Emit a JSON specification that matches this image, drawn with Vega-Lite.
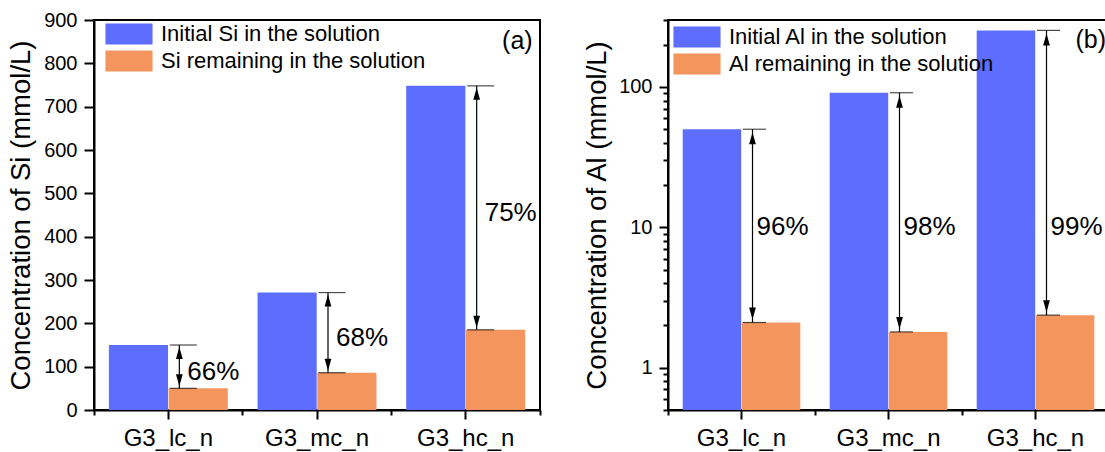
{
  "$schema": "https://vega.github.io/schema/vega-lite/v6.json",
  "padding": {"left": 6, "top": 9, "right": 0, "bottom": 0},
  "autosize": {"type": "pad"},
  "background": "white",
  "datasets": {
    "si": [
      {"sample": "G3_lc_n", "series": "Initial Si in the solution", "value": 150, "removal": "66%"},
      {"sample": "G3_lc_n", "series": "Si remaining in the solution", "value": 50, "removal": "66%"},
      {"sample": "G3_mc_n", "series": "Initial Si in the solution", "value": 271, "removal": "68%"},
      {"sample": "G3_mc_n", "series": "Si remaining in the solution", "value": 86, "removal": "68%"},
      {"sample": "G3_hc_n", "series": "Initial Si in the solution", "value": 748, "removal": "75%"},
      {"sample": "G3_hc_n", "series": "Si remaining in the solution", "value": 185, "removal": "75%"}
    ],
    "al": [
      {"sample": "G3_lc_n", "series": "Initial Al in the solution", "value": 50, "removal": "96%"},
      {"sample": "G3_lc_n", "series": "Al remaining in the solution", "value": 2.1, "removal": "96%"},
      {"sample": "G3_mc_n", "series": "Initial Al in the solution", "value": 91, "removal": "98%"},
      {"sample": "G3_mc_n", "series": "Al remaining in the solution", "value": 1.8, "removal": "98%"},
      {"sample": "G3_hc_n", "series": "Initial Al in the solution", "value": 253, "removal": "99%"},
      {"sample": "G3_hc_n", "series": "Al remaining in the solution", "value": 2.37, "removal": "99%"}
    ]
  },
  "hconcat": [
    {
      "width": 446,
      "height": 390,
      "data": {"name": "si"},
      "resolve": {"axis": {"x": "independent"}},
      "layer": [
        {
          "mark": {"type": "bar"},
          "encoding": {
            "x": {
              "field": "sample", "type": "nominal", "sort": ["G3_lc_n", "G3_mc_n", "G3_hc_n"],
              "scale": {"paddingInner": 0.2, "paddingOuter": 0.1},
              "axis": {"orient": "bottom", "title": null, "labelAngle": 0, "labelFontSize": 24, "tickSize": 9, "labelPadding": 7}
            },
            "xOffset": {"field": "series", "type": "nominal", "sort": ["Initial Si in the solution", "Si remaining in the solution"], "scale": {"paddingInner": 0.01}},
            "y": {
              "field": "value", "type": "quantitative", "stack": null,
              "scale": {"domain": [0, 900], "nice": false},
              "axis": {
                "values": [0, 50, 100, 150, 200, 250, 300, 350, 400, 450, 500, 550, 600, 650, 700, 750, 800, 850, 900],
                "labelExpr": "datum.value % 100 === 0 ? datum.label : ''",
                "tickSize": {"condition": {"test": "datum.value % 100 !== 0", "value": 6}, "value": 10},
                "labelFontSize": 20, "labelPadding": 7,
                "title": "Concentration of Si (mmol/L)", "titleFontSize": 27.5, "titlePadding": 8
              }
            },
            "color": {
              "field": "series", "type": "nominal",
              "sort": ["Initial Si in the solution", "Si remaining in the solution"],
              "scale": {"domain": ["Initial Si in the solution", "Si remaining in the solution"], "range": ["#5D6DFE", "#F4955E"]},
              "legend": {"title": null, "orient": "none", "legendX": 24, "legendY": 3}
            }
          }
        },
        {
          "mark": {"type": "tick", "orient": "horizontal", "size": 27, "thickness": 1.2, "xOffset": 15, "color": "black"},
          "encoding": {
            "x": {"field": "sample", "type": "nominal", "sort": ["G3_lc_n", "G3_mc_n", "G3_hc_n"],
              "axis": {"orient": "bottom", "labels": false, "title": null, "domain": false, "tickSize": 5, "bandPosition": -0.125}},
            "y": {"field": "value", "type": "quantitative"}
          }
        },
        {
          "mark": {"type": "rule", "xOffset": 11, "strokeWidth": 1.2, "color": "black"},
          "encoding": {
            "x": {"field": "sample", "type": "nominal", "sort": ["G3_lc_n", "G3_mc_n", "G3_hc_n"],
              "axis": {"orient": "bottom", "labels": false, "title": null, "domain": false, "tickSize": 5, "bandPosition": 1.125, "values": ["G3_hc_n"]}},
            "y": {"aggregate": "max", "field": "value", "type": "quantitative"},
            "y2": {"aggregate": "min", "field": "value"}
          }
        },
        {
          "mark": {"type": "point", "shape": "M0,0L-0.28,1L0.28,1Z", "size": 576, "filled": true, "opacity": 1, "color": "black", "xOffset": 11, "yOffset": 2},
          "encoding": {
            "x": {"field": "sample", "type": "nominal", "sort": ["G3_lc_n", "G3_mc_n", "G3_hc_n"], "axis": null},
            "y": {"aggregate": "max", "field": "value", "type": "quantitative"}
          }
        },
        {
          "mark": {"type": "point", "shape": "M0,0L-0.28,-1L0.28,-1Z", "size": 576, "filled": true, "opacity": 1, "color": "black", "xOffset": 11, "yOffset": -2},
          "encoding": {
            "x": {"field": "sample", "type": "nominal", "sort": ["G3_lc_n", "G3_mc_n", "G3_hc_n"], "axis": null},
            "y": {"aggregate": "min", "field": "value", "type": "quantitative"}
          }
        },
        {
          "mark": {"type": "text", "align": "left", "baseline": "middle", "xOffset": 19, "yOffset": 5, "fontSize": 26, "font": "Liberation Sans", "color": "black"},
          "encoding": {
            "x": {"field": "sample", "type": "nominal", "sort": ["G3_lc_n", "G3_mc_n", "G3_hc_n"], "axis": null},
            "y": {"aggregate": "mean", "field": "value", "type": "quantitative"},
            "text": {"field": "removal", "type": "nominal"}
          }
        },
        {
          "data": {"values": [{"panel": "(a)"}]},
          "mark": {"type": "text", "align": "right", "baseline": "alphabetic", "xOffset": 67, "fontSize": 25, "font": "Liberation Sans", "color": "black"},
          "encoding": {
            "x": {"datum": "G3_hc_n", "type": "nominal", "axis": null},
            "y": {"datum": 833, "type": "quantitative"},
            "text": {"field": "panel", "type": "nominal"}
          }
        }
      ]
    },
    {
      "width": 441,
      "height": 390,
      "data": {"name": "al"},
      "resolve": {"axis": {"x": "independent"}},
      "layer": [
        {
          "mark": {"type": "bar"},
          "encoding": {
            "x": {
              "field": "sample", "type": "nominal", "sort": ["G3_lc_n", "G3_mc_n", "G3_hc_n"],
              "scale": {"paddingInner": 0.2, "paddingOuter": 0.1},
              "axis": {"orient": "bottom", "title": null, "labelAngle": 0, "labelFontSize": 24, "tickSize": 9, "labelPadding": 7}
            },
            "xOffset": {"field": "series", "type": "nominal", "sort": ["Initial Al in the solution", "Al remaining in the solution"], "scale": {"paddingInner": 0.01}},
            "y": {
              "field": "value", "type": "quantitative", "stack": null,
              "scale": {"type": "log", "domain": [0.5, 300], "nice": false},
              "axis": {
                "values": [0.5, 0.6, 0.7, 0.8, 0.9, 1, 2, 3, 4, 5, 6, 7, 8, 9, 10, 20, 30, 40, 50, 60, 70, 80, 90, 100, 200, 300],
                "labelExpr": "datum.value === 1 ? '1' : datum.value === 10 ? '10' : datum.value === 100 ? '100' : ''",
                "tickSize": {"condition": {"test": "datum.value === 1 || datum.value === 10 || datum.value === 100", "value": 9}, "value": 5},
                "labelFontSize": 20, "labelPadding": 7,
                "title": "Concentration of Al (mmol/L)", "titleFontSize": 27.5, "titlePadding": 7
              }
            },
            "y2": {"datum": 0.5},
            "color": {
              "field": "series", "type": "nominal",
              "sort": ["Initial Al in the solution", "Al remaining in the solution"],
              "scale": {"domain": ["Initial Al in the solution", "Al remaining in the solution"], "range": ["#5D6DFE", "#F4955E"]},
              "legend": {"title": null, "orient": "none", "legendX": 18, "legendY": 6}
            }
          }
        },
        {
          "mark": {"type": "tick", "orient": "horizontal", "size": 23, "thickness": 1.2, "xOffset": 13, "color": "black"},
          "encoding": {
            "x": {"field": "sample", "type": "nominal", "sort": ["G3_lc_n", "G3_mc_n", "G3_hc_n"],
              "axis": {"orient": "bottom", "labels": false, "title": null, "domain": false, "tickSize": 5, "bandPosition": -0.125}},
            "y": {"field": "value", "type": "quantitative"}
          }
        },
        {
          "mark": {"type": "rule", "xOffset": 11, "strokeWidth": 1.2, "color": "black"},
          "encoding": {
            "x": {"field": "sample", "type": "nominal", "sort": ["G3_lc_n", "G3_mc_n", "G3_hc_n"], "axis": null},
            "y": {"aggregate": "max", "field": "value", "type": "quantitative"},
            "y2": {"aggregate": "min", "field": "value"}
          }
        },
        {
          "mark": {"type": "point", "shape": "M0,0L-0.28,1L0.28,1Z", "size": 576, "filled": true, "opacity": 1, "color": "black", "xOffset": 11, "yOffset": 3},
          "encoding": {
            "x": {"field": "sample", "type": "nominal", "sort": ["G3_lc_n", "G3_mc_n", "G3_hc_n"], "axis": null},
            "y": {"aggregate": "max", "field": "value", "type": "quantitative"}
          }
        },
        {
          "mark": {"type": "point", "shape": "M0,0L-0.28,-1L0.28,-1Z", "size": 576, "filled": true, "opacity": 1, "color": "black", "xOffset": 11, "yOffset": -3},
          "encoding": {
            "x": {"field": "sample", "type": "nominal", "sort": ["G3_lc_n", "G3_mc_n", "G3_hc_n"], "axis": null},
            "y": {"aggregate": "min", "field": "value", "type": "quantitative"}
          }
        },
        {
          "transform": [{"filter": "datum.series === 'Initial Al in the solution'"}],
          "mark": {"type": "text", "align": "left", "baseline": "middle", "xOffset": 15, "fontSize": 26, "font": "Liberation Sans", "color": "black"},
          "encoding": {
            "x": {"field": "sample", "type": "nominal", "sort": ["G3_lc_n", "G3_mc_n", "G3_hc_n"], "axis": null},
            "y": {"datum": 10, "type": "quantitative"},
            "text": {"field": "removal", "type": "nominal"}
          }
        },
        {
          "data": {"values": [{"panel": "(b)"}]},
          "mark": {"type": "text", "align": "left", "baseline": "alphabetic", "xOffset": 40, "fontSize": 25, "font": "Liberation Sans", "color": "black"},
          "encoding": {
            "x": {"datum": "G3_hc_n", "type": "nominal", "axis": null},
            "y": {"datum": 190, "type": "quantitative"},
            "text": {"field": "panel", "type": "nominal"}
          }
        }
      ]
    }
  ],
  "spacing": 40,
  "resolve": {"scale": {"color": "independent", "x": "independent", "y": "independent", "xOffset": "independent"}, "legend": {"color": "independent"}},
  "config": {
    "font": "Liberation Sans",
    "view": {"stroke": "black", "strokeWidth": 2},
    "axis": {
      "grid": false,
      "domainColor": "black", "domainWidth": 2,
      "tickColor": "black", "tickWidth": 2,
      "labelColor": "black", "labelFont": "Liberation Sans",
      "titleColor": "black", "titleFont": "Liberation Sans", "titleFontWeight": "normal"
    },
    "legend": {
      "labelFont": "Liberation Sans", "labelFontSize": 22, "labelColor": "black",
      "symbolType": "M-2.14,-0.95H2.14V0.95H-2.14Z", "symbolSize": 484, "symbolStrokeWidth": 0,
      "symbolOpacity": 1, "labelOffset": 21, "rowPadding": 5, "labelLimit": 400
    }
  }
}
